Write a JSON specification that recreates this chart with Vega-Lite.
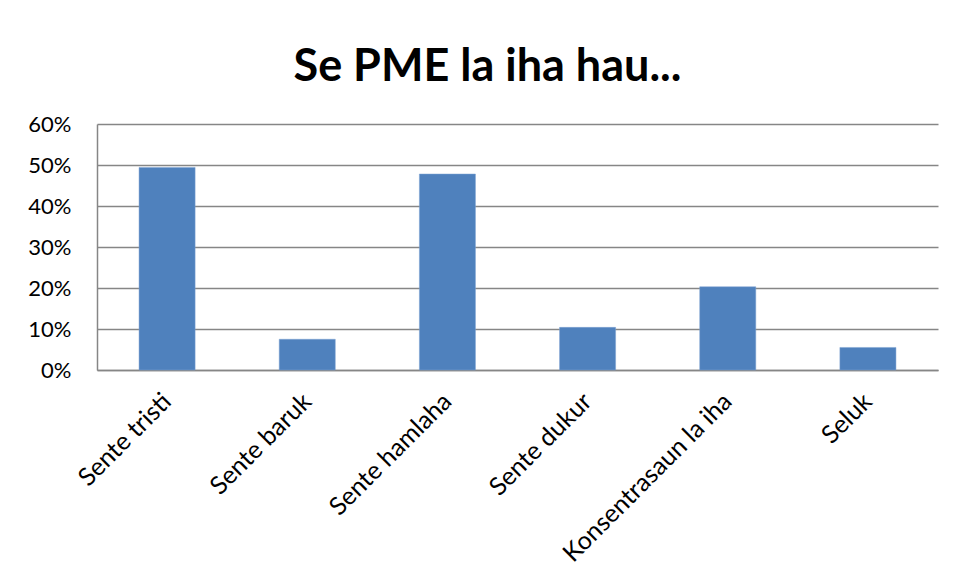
{
  "$schema": "https://vega.github.io/schema/vega-lite/v6.json",
  "autosize": {"type": "none"},
  "width": 841,
  "height": 246,
  "padding": {"left": 97, "top": 124, "right": 18, "bottom": 211},
  "background": "white",
  "title": {
    "text": "Se PME la iha hau...",
    "font": "Lato",
    "fontSize": 45,
    "fontWeight": "bold",
    "color": "black",
    "anchor": "middle",
    "dx": -30,
    "baseline": "alphabetic",
    "offset": -13
  },
  "data": {
    "values": [
      {"cat": "Sente tristi", "v": 0.494},
      {"cat": "Sente baruk", "v": 0.075},
      {"cat": "Sente hamlaha", "v": 0.478},
      {"cat": "Sente dukur", "v": 0.104},
      {"cat": "Konsentrasaun la iha", "v": 0.203},
      {"cat": "Seluk", "v": 0.055}
    ]
  },
  "mark": {"type": "bar", "color": "#4F81BD", "stroke": "#7FA3D3", "strokeWidth": 0.5},
  "encoding": {
    "x": {
      "field": "cat",
      "type": "nominal",
      "sort": null,
      "scale": {"paddingInner": 0.6, "paddingOuter": 0.3},
      "axis": {
        "title": null,
        "labelAngle": -45,
        "labelAlign": "right",
        "labelBaseline": "middle",
        "labelFont": "Lato",
        "labelFontSize": 25,
        "labelColor": "black",
        "labelPadding": 27,
        "ticks": false,
        "domainColor": "#868686",
        "domainWidth": 1.5,
        "labelLimit": 400
      }
    },
    "y": {
      "field": "v",
      "type": "quantitative",
      "scale": {"domain": [0, 0.6], "nice": false},
      "axis": {
        "title": null,
        "format": ".0%",
        "values": [0, 0.1, 0.2, 0.3, 0.4, 0.5, 0.6],
        "labelFont": "Lato",
        "labelFontSize": 22,
        "labelColor": "black",
        "labelPadding": 26,
        "ticks": false,
        "domainColor": "#868686",
        "domainWidth": 1.5,
        "gridColor": "#868686",
        "gridWidth": 1.5
      }
    }
  },
  "config": {"view": {"stroke": null}}
}
